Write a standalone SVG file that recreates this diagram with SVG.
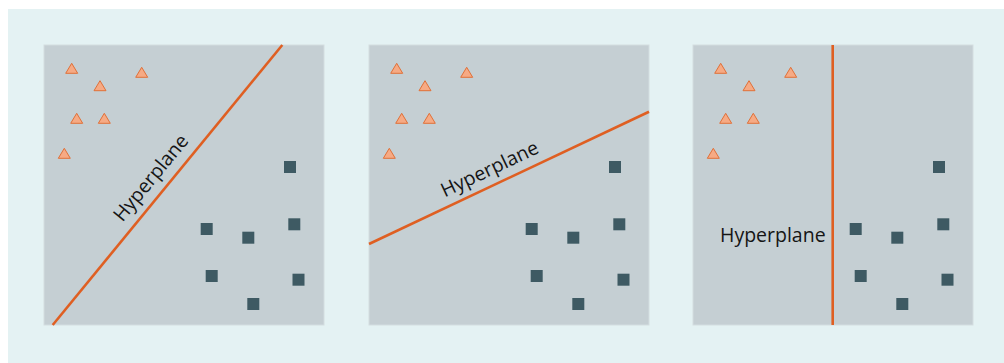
<svg xmlns="http://www.w3.org/2000/svg" xmlns:xlink="http://www.w3.org/1999/xlink" width="1004" height="363" viewBox="0 0 1004 363">
<style>
.panel{fill:#c5cfd3;stroke:#d3dde0;stroke-width:1}
.hp{stroke:#df5f22;stroke-width:2.6;fill:none;stroke-linecap:butt}
.lbl{font-family:"Open Sans","Noto Sans","DejaVu Sans",sans-serif;font-size:19.5px;fill:#151515}
.tri{fill:#f6aa84;stroke:#e07038;stroke-width:1}
.sq{fill:#3e5a63}
</style>
<defs>
<polygon id="t" class="tri" points="0,-5 6,5 -6,5"/>
<rect id="s" class="sq" x="-6" y="-6" width="12" height="12"/>
<g id="pts">
<use xlink:href="#t" x="27.7" y="23.3"/>
<use xlink:href="#t" x="97.7" y="27.3"/>
<use xlink:href="#t" x="56" y="40.7"/>
<use xlink:href="#t" x="32.7" y="73.3"/>
<use xlink:href="#t" x="60.3" y="73.3"/>
<use xlink:href="#t" x="20.3" y="108.3"/>
<use xlink:href="#s" x="246" y="122"/>
<use xlink:href="#s" x="162.7" y="184"/>
<use xlink:href="#s" x="204.3" y="192.7"/>
<use xlink:href="#s" x="250.3" y="179.3"/>
<use xlink:href="#s" x="167.7" y="231"/>
<use xlink:href="#s" x="254.5" y="234.7"/>
<use xlink:href="#s" x="209.3" y="259"/>
</g>
</defs>
<rect x="0" y="0" width="1004" height="363" fill="#ffffff"/>
<rect x="8" y="9" width="996" height="354" fill="#e4f2f3"/>
<g id="panel1">
<rect class="panel" x="44" y="45" width="280" height="280"/>
<use xlink:href="#pts" x="44" y="45"/>
</g>
<g id="panel2">
<rect class="panel" x="369" y="45" width="280" height="280"/>
<use xlink:href="#pts" x="369" y="45"/>
</g>
<g id="panel3">
<rect class="panel" x="693" y="45" width="280" height="280"/>
<use xlink:href="#pts" x="693" y="45"/>
</g>
<g id="connectors">
<line class="hp" x1="52.7" y1="325" x2="282.3" y2="45"/>
<line class="hp" x1="369" y1="244" x2="649" y2="111.7"/>
<line class="hp" x1="832.7" y1="45" x2="832.7" y2="325"/>
</g>
<g id="labels">
<text class="lbl" text-anchor="middle" transform="translate(156,182) rotate(-50.6)">Hyperplane</text>
<text class="lbl" text-anchor="middle" transform="translate(492.5,175) rotate(-25.3)">Hyperplane</text>
<text class="lbl" x="720" y="242">Hyperplane</text>
</g>
</svg>
